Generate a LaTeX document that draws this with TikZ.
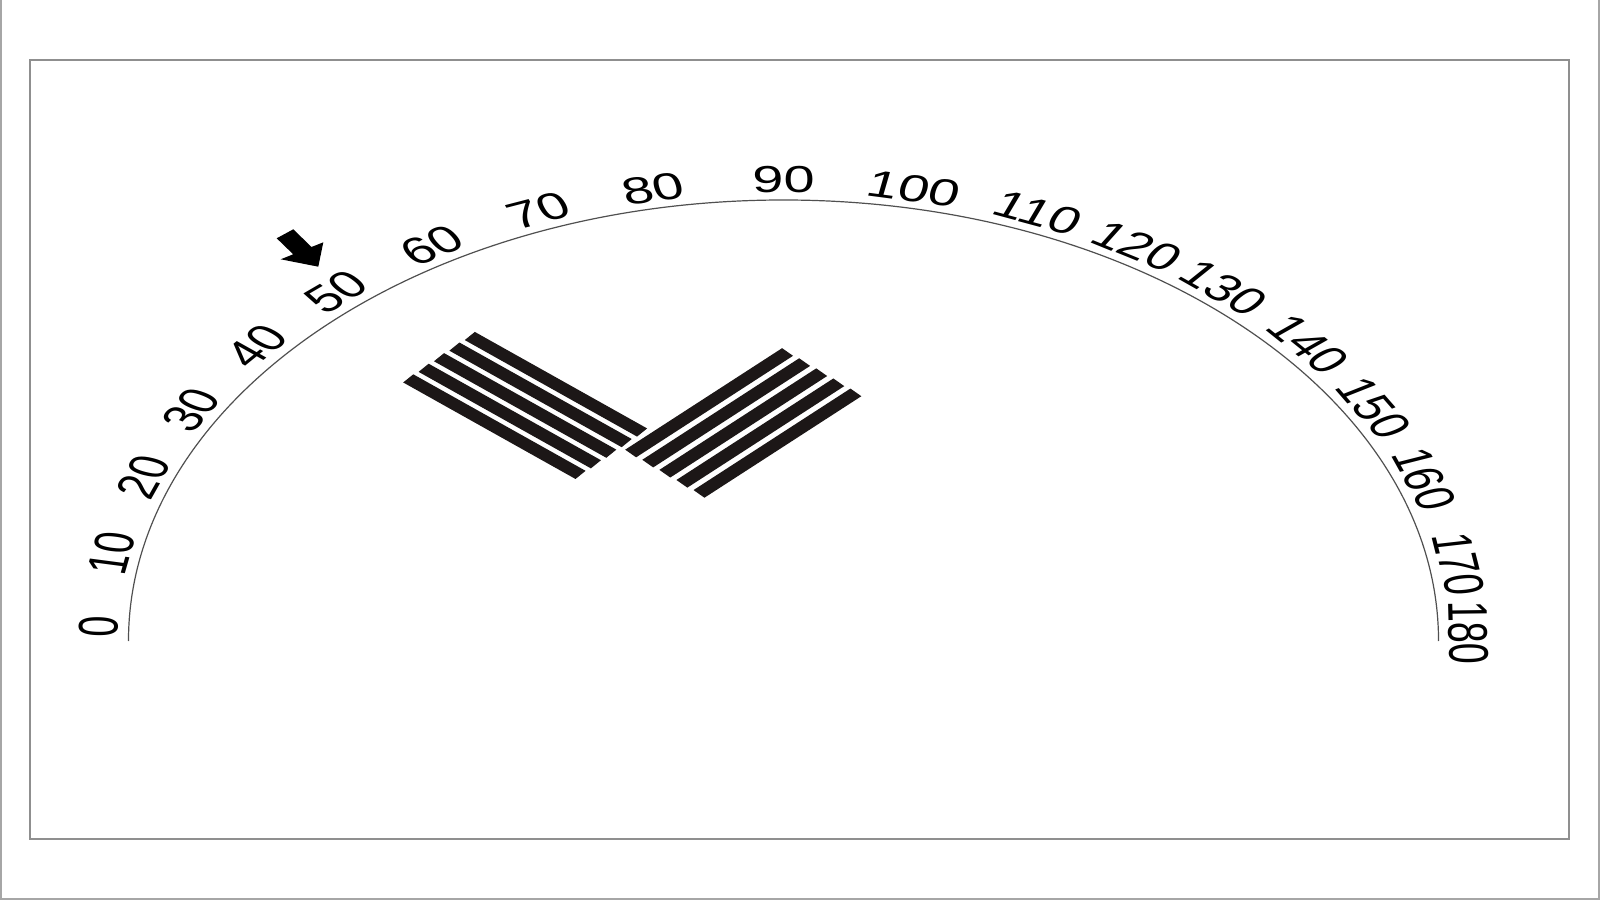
\documentclass[tikz,border=0pt]{standalone}
\usepackage{fontspec}
\setmainfont{Liberation Sans}
\definecolor{framegray}{HTML}{A6A6A6}
\definecolor{innergray}{HTML}{8F8F8F}
\definecolor{arcgray}{HTML}{505050}
\definecolor{stripecol}{HTML}{1C1717}
\begin{document}
\begin{tikzpicture}[x=0.5pt,y=0.5pt,
  lab/.style={inner sep=0pt, font=\fontsize{18.8}{20}\selectfont, transform shape},
  stripe/.style={fill=stripecol},
  outerframe/.style={draw=framegray, line width=1.2pt},
  innerframe/.style={draw=innergray, line width=0.9pt},
  scalearc/.style={draw=arcgray, line width=0.6pt}]
\useasboundingbox (0,0) rectangle (1600,900);
\fill[white] (0,0) rectangle (1600,900);
% frames
\draw[outerframe] (1.2,900) -- (1.2,1.2) -- (1598.8,1.2) -- (1598.8,900);
\draw[innerframe] (30,61) rectangle (1569,840);
% arrow
\fill[black] (276.7,661.7) -- (293.2,645.7) -- (280.7,640.7) -- (318.3,633.3)
  -- (323.3,657.7) -- (311.5,653) -- (293.3,670.7) -- cycle;
% protractor (drawn as a semicircle, stretched horizontally)
\begin{scope}[shift={(783.5,259)}, xscale=1.4853]
  \draw[scalearc] (180:441) arc[start angle=180, end angle=0, radius=441];
  \foreach \v/\a in {0/178.2,10/169.0,20/159.2,30/149.9,40/140.3,50/130.8,60/120.9,
                     70/111.0,80/101.0,90/90,100/79.0,110/68.2,120/58.9,130/50.0,
                     140/40.0,150/30.4,160/20.6,170/9.6,180/1.0}
    \node[lab, rotate=\a-90] (l\v) at (\a:461) {\v};
  % left group of stripes
  \foreach \k in {0,...,4}
    \fill[stripe, shift={(-211.2-10.36*\k, 305-10.6*\k)}, rotate=-39.76]
      (0,-5.3) rectangle (150.9,5.3);
  % right group of stripes
  \foreach \k in {0,...,4}
    \fill[stripe, shift={(-102.9+11.5*\k, 187.5-10.1*\k)}, rotate=43.86]
      (0,-5.3) rectangle (146.5,5.3);
\end{scope}
\end{tikzpicture}
\end{document}
